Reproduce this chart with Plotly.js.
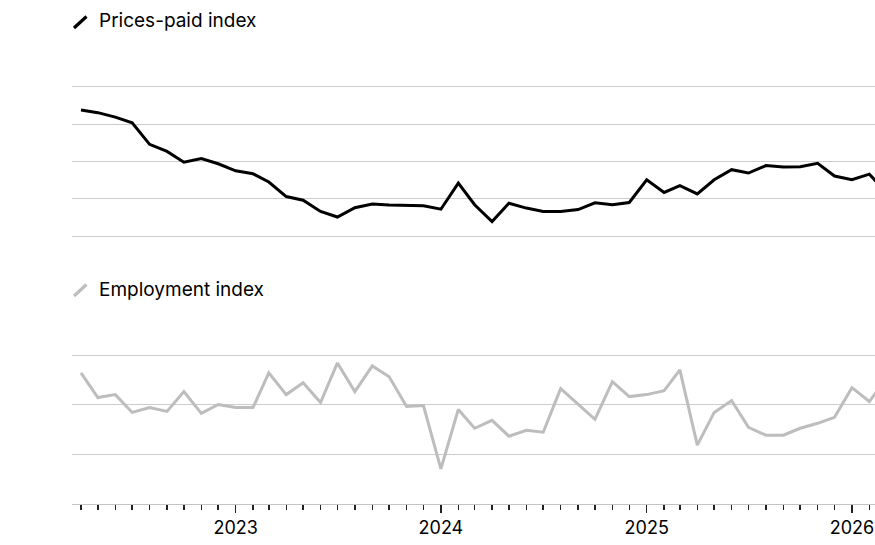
<!DOCTYPE html>
<html>
<head>
<meta charset="utf-8">
<script src="https://cdn.plot.ly/plotly-3.0.1.min.js"></script>
<style>
  html, body { margin: 0; padding: 0; background: #fff; overflow: hidden; }
  #chart { width: 875px; height: 545px; }
</style>
</head>
<body>
<div id="chart"></div>
<script>
// ---- Data ----
const months = [
  '2022-04-01','2022-05-01','2022-06-01','2022-07-01','2022-08-01','2022-09-01',
  '2022-10-01','2022-11-01','2022-12-01','2023-01-01','2023-02-01','2023-03-01',
  '2023-04-01','2023-05-01','2023-06-01','2023-07-01','2023-08-01','2023-09-01',
  '2023-10-01','2023-11-01','2023-12-01','2024-01-01','2024-02-01','2024-03-01',
  '2024-04-01','2024-05-01','2024-06-01','2024-07-01','2024-08-01','2024-09-01',
  '2024-10-01','2024-11-01','2024-12-01','2025-01-01','2025-02-01','2025-03-01',
  '2025-04-01','2025-05-01','2025-06-01','2025-07-01','2025-08-01','2025-09-01',
  '2025-10-01','2025-11-01','2025-12-01','2026-01-01','2026-02-01','2026-03-01'
];

const pricesPaid = [
  83.8, 83.1, 81.9, 80.4, 74.6, 72.7, 69.8, 70.8, 69.4, 67.5, 66.7, 64.5,
  60.6, 59.6, 56.6, 55.1, 57.6, 58.6, 58.3, 58.3, 58.1, 57.2, 64.2, 58.4,
  53.9, 58.8, 57.5, 56.6, 56.6, 57.1, 58.9, 58.4, 59.0, 65.1, 61.7, 63.5,
  61.3, 65.1, 67.8, 66.9, 68.9, 68.5, 68.6, 69.5, 66.1, 65.1, 66.6, 62.0
];

const employment = [
  53.2, 50.7, 51.0, 49.2, 49.7, 49.3, 51.3, 49.1, 50.0, 49.7, 49.7, 53.2,
  51.0, 52.2, 50.2, 54.2, 51.3, 53.9, 52.8, 49.8, 49.9, 43.5, 49.5, 47.6,
  48.4, 46.8, 47.4, 47.2, 51.6, 50.0, 48.5, 52.3, 50.8, 51.0, 51.4, 53.5,
  45.9, 49.2, 50.4, 47.7, 46.9, 46.9, 47.6, 48.1, 48.7, 51.7, 50.3, 52.5
];

const seriesNames = ['Prices-paid index', 'Employment index'];
const pricesGrid = [50, 60, 70, 80, 90];
const employmentGrid = [40, 45, 50, 55];

// ---- Chart ----
const FONT = 'Inter, "Liberation Sans", Arial, sans-serif';
const H = 545;
const py = p => (H - p) / H;   // pixel row -> paper fraction

const traces = [
  {
    x: months, y: pricesPaid, name: seriesNames[0],
    type: 'scatter', mode: 'lines', xaxis: 'x', yaxis: 'y',
    line: { color: '#000000', width: 3, shape: 'linear' },
    hoverinfo: 'skip'
  },
  {
    x: months, y: employment, name: seriesNames[1],
    type: 'scatter', mode: 'lines', xaxis: 'x', yaxis: 'y2',
    line: { color: '#bdbdbd', width: 3, shape: 'linear' },
    hoverinfo: 'skip'
  }
];

const layout = {
  width: 875, height: 545,
  margin: { l: 72, r: 0, t: 0, b: 0, pad: 0 },
  paper_bgcolor: '#ffffff', plot_bgcolor: '#ffffff',
  showlegend: false,
  font: { family: FONT, color: '#000000', size: 18 },
  xaxis: {
    type: 'date', anchor: 'y2',
    range: ['2022-03-16', '2026-02-11'],
    showgrid: false, zeroline: false,
    showline: true, linecolor: '#c4c4c4', linewidth: 1,
    tick0: '2023-01-01', dtick: 'M12', tickformat: '%Y',
    ticks: 'outside', ticklen: 8, tickwidth: 1.5, tickcolor: '#222222',
    tickfont: { family: FONT, size: 18, color: '#000000' },
    minor: { dtick: 'M1', tick0: '2023-01-01', ticks: 'outside', ticklen: 5, tickwidth: 1.5, tickcolor: '#222222', showgrid: false },
    automargin: false, fixedrange: true
  },
  yaxis: {
    domain: [py(243.5), py(79.5)],
    range: [48, 92],
    tickvals: pricesGrid, showticklabels: false,
    showgrid: true, gridcolor: '#cccccc', gridwidth: 1,
    zeroline: false, showline: false, ticks: '',
    automargin: false, fixedrange: true
  },
  yaxis2: {
    domain: [py(503.5), py(345.1)],
    range: [40, 56],
    tickvals: employmentGrid, showticklabels: false,
    showgrid: true, gridcolor: '#cccccc', gridwidth: 1,
    zeroline: false, showline: false, ticks: '',
    automargin: false, fixedrange: true
  },
  annotations: [
    {
      text: seriesNames[0], xref: 'paper', yref: 'paper',
      x: (96.5 - 72) / 803, y: py(21), xanchor: 'left', yanchor: 'middle',
      showarrow: false, font: { family: FONT, size: 19, color: '#000000' }
    },
    {
      text: seriesNames[1], xref: 'paper', yref: 'paper',
      x: (96.5 - 72) / 803, y: py(289), xanchor: 'left', yanchor: 'middle',
      showarrow: false, font: { family: FONT, size: 19, color: '#000000' }
    }
  ],
  shapes: [
    {
      type: 'line', xref: 'paper', yref: 'paper',
      x0: 2 / 803, y0: py(28), x1: 14.5 / 803, y1: py(16.5),
      line: { color: '#000000', width: 3.2 }
    },
    {
      type: 'line', xref: 'paper', yref: 'paper',
      x0: 2 / 803, y0: py(296), x1: 14.5 / 803, y1: py(284.5),
      line: { color: '#bdbdbd', width: 3.2 }
    }
  ]
};

Plotly.newPlot('chart', traces, layout, { displayModeBar: false, staticPlot: true });
</script>
</body>
</html>
